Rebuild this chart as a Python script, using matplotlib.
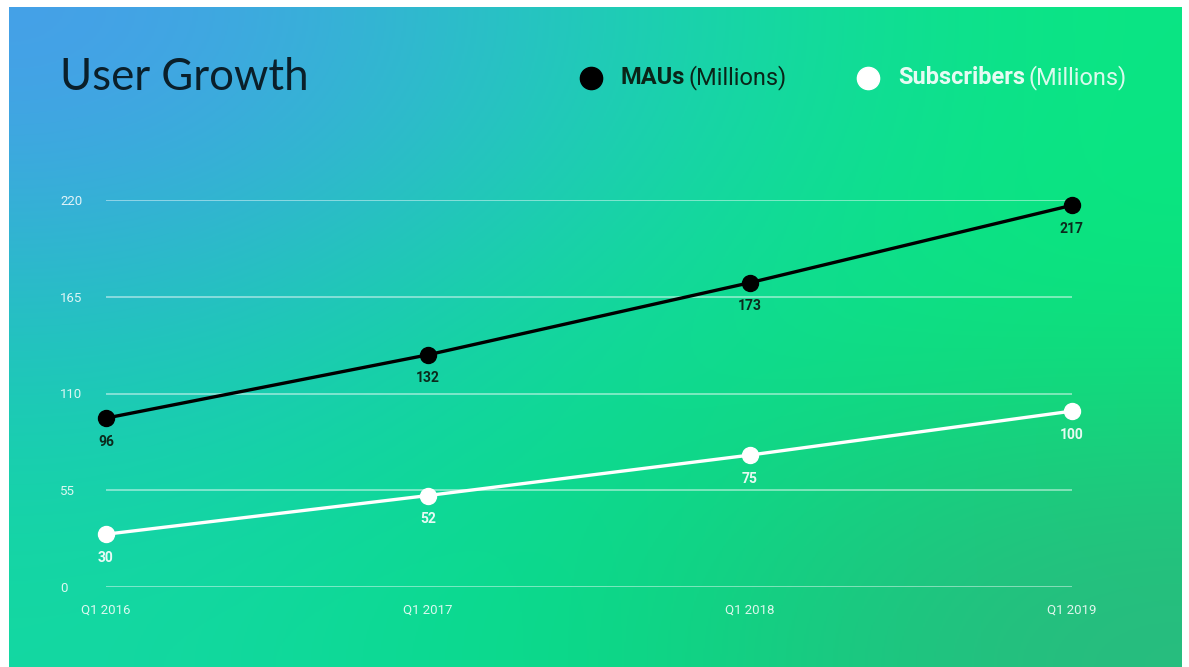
import numpy as np
import matplotlib
matplotlib.use("Agg")
import matplotlib.pyplot as plt

quarters = ["Q1 2016", "Q1 2017", "Q1 2018", "Q1 2019"]
maus = [96, 132, 173, 217]
subscribers = [30, 52, 75, 100]
yticks = [0, 55, 110, 165, 220]

W, H = 1189, 667
fig = plt.figure(figsize=(W / 100, H / 100), dpi=100, facecolor="white")

# gradient background (coarse colour grid, smoothed by imshow)
grid = np.array([
    [(72, 158, 235), (30, 205, 188), (10, 230, 130)],
    [(32, 196, 192), (14, 222, 148), (10, 228, 122)],
    [(20, 216, 162), (4, 222, 132), (42, 186, 126)],
]) / 255.0
bg = fig.add_axes([9 / W, 0, (1182 - 9) / W, (H - 7) / H])
bg.imshow(grid, aspect="auto", interpolation="bicubic", extent=[0, 1, 0, 1])
bg.set_axis_off()

ax = fig.add_axes([106 / W, (H - 587) / H, (1072 - 106) / W, (587 - 200) / H])
ax.patch.set_alpha(0)
ax.set_xlim(0, 3)
ax.set_ylim(0, 220)
for s in ax.spines.values():
    s.set_visible(False)

x = np.arange(len(quarters))
for v in yticks:
    ax.axhline(v, color="white", alpha=0.45, lw=1.4, zorder=1)

ax.plot(x, maus, color="black", lw=2.4, marker="o", ms=11.5, clip_on=False, zorder=3)
ax.plot(x, subscribers, color="white", lw=2.4, marker="o", ms=11.5, clip_on=False, zorder=3)

for xi, v in zip(x, maus):
    ax.annotate(str(v), (xi, v), xytext=(0, -17), textcoords="offset points",
                ha="center", va="center", fontsize=10, fontweight="bold",
                color="#0b2a1c", family="Roboto")
for xi, v in zip(x, subscribers):
    ax.annotate(str(v), (xi, v), xytext=(0, -17), textcoords="offset points",
                ha="center", va="center", fontsize=10, fontweight="bold",
                color="white", family="Roboto", alpha=0.9)

ax.set_yticks(yticks)
ax.set_yticklabels([str(t) for t in yticks], ha="left", fontsize=9.5,
                   color="white", alpha=0.85, family="Roboto")
ax.tick_params(axis="y", length=0, pad=33)
ax.set_xticks(x)
ax.set_xticklabels(quarters, fontsize=9.5, color="white", alpha=0.85, family="Roboto")
ax.tick_params(axis="x", length=0, pad=12)

# title
fig.text(60 / W, 1 - 77 / H, "User Growth", fontsize=31.5, color="#0a1f2a",
         family="Lato", va="center", ha="left")

# legend
lx = fig.add_axes([0, 0, 1, 1])
lx.set_xlim(0, W)
lx.set_ylim(H, 0)
lx.set_axis_off()
lx.plot([591], [78], "o", color="black", ms=16)
lx.plot([868], [78], "o", color="white", ms=16)
t1 = lx.text(620, 78, "MAUs", fontsize=17, fontweight="bold", color="#0a2418",
             family="Roboto", va="center")
fig.canvas.draw()
bb = t1.get_window_extent()
lx.text(620 + bb.width + 4, 78, "(Millions)", fontsize=17, color="#0a2418",
        family="Roboto", va="center")
t2 = lx.text(898, 78, "Subscribers", fontsize=17, fontweight="bold", color="white",
             alpha=0.9, family="Roboto", va="center")
fig.canvas.draw()
bb2 = t2.get_window_extent()
lx.text(898 + bb2.width + 4, 78, "(Millions)", fontsize=17, color="white",
        alpha=0.85, family="Roboto", va="center")

fig.savefig("out.png", dpi=100, facecolor="white")
